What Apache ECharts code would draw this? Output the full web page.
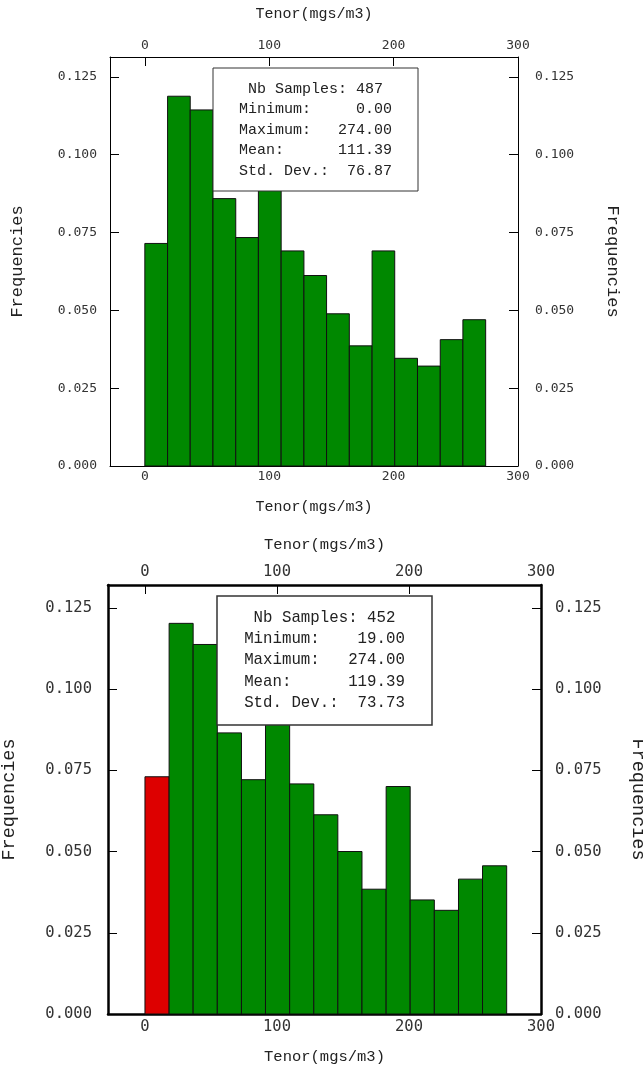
<!DOCTYPE html>
<html><head><meta charset="utf-8">
<script src="https://cdn.jsdelivr.net/npm/echarts@6/dist/echarts.min.js"></script>
<style>html,body{margin:0;padding:0;background:#fff}#c{width:643px;height:1072px}</style>
</head><body><div id="c"></div>
<script>
// ---- data ----
const binEdges = [0, 18.3, 36.5, 54.8, 73.1, 91.3, 109.6, 127.9, 146.1, 164.4, 182.7, 200.9, 219.2, 237.5, 255.7, 274];
const freqAll = [0.0715, 0.1188, 0.1144, 0.0859, 0.0734, 0.0945, 0.0691, 0.0612, 0.0489, 0.0386, 0.0691, 0.0346, 0.0321, 0.0406, 0.0470];
const freqFiltered = [0.0730, 0.1202, 0.1137, 0.0865, 0.0721, 0.0920, 0.0708, 0.0613, 0.0500, 0.0384, 0.0700, 0.0351, 0.0319, 0.0415, 0.0456];
const excludedBinsFiltered = [0];
const xTicks = [0, 100, 200, 300];
const yTicks = [0, 0.025, 0.05, 0.075, 0.1, 0.125];
const xTitle = 'Tenor(mgs/m3)';
const yTitle = 'Frequencies';
const statsAll = ['Nb Samples: 487', 'Minimum:     0.00', 'Maximum:   274.00', 'Mean:      111.39', 'Std. Dev.:  76.87'];
const statsFiltered = ['Nb Samples: 452', 'Minimum:    19.00', 'Maximum:   274.00', 'Mean:      119.39', 'Std. Dev.:  73.73'];

// ---- layout / style ----
const GREEN = '#008800', RED = '#dd0000';
const MONO = '"Liberation Mono", "Courier New", monospace';
const TICKFONT = '"DejaVu Sans Mono", monospace';
const panels = [
  { grid: {left: 110, top: 57, width: 408, height: 409}, yMax: 0.1314, frameW: 1,
    tickFS: 13, xNameFS: 15, yNameFS: 17, topLabelMargin: 5, botLabelMargin: 4,
    topNameGap: 35, botNameGap: 34, leftNameGap: 84, rightNameGap: 86,
    leftLabelMargin: 13, rightLabelMargin: 17, tickLen: 9,
    freq: freqAll, excluded: [], stats: statsAll,
    box: {x: 213, y: 68, w: 205, h: 123}, textX: 315.5, textY: 78.5, lh: 20.5, statFS: 15 },
  { grid: {left: 108, top: 585, width: 433, height: 429}, yMax: 0.132, frameW: 2.5,
    tickFS: 15.5, xNameFS: 15.5, yNameFS: 18.5, topLabelMargin: 5, botLabelMargin: 5,
    topNameGap: 32, botNameGap: 35, leftNameGap: 89, rightNameGap: 87,
    leftLabelMargin: 16, rightLabelMargin: 14, tickLen: 9,
    freq: freqFiltered, excluded: excludedBinsFiltered, stats: statsFiltered,
    box: {x: 217, y: 596, w: 215, h: 129}, textX: 324.5, textY: 607, lh: 21.3, statFS: 15.75 }
];

const grids = [], xAxes = [], yAxes = [], series = [], graphics = [];
panels.forEach((p, gi) => {
  grids.push(Object.assign({outerBoundsMode: 'none', containLabel: false}, p.grid));
  const line = {onZero: false, lineStyle: {color: '#000', width: p.frameW}};
  const tick = {inside: true, length: p.tickLen, customValues: null, lineStyle: {color: '#000', width: 1}};
  const xBase = (pos, margin, gap) => ({
    gridIndex: gi, type: 'value', position: pos, min: -28, max: 300,
    name: xTitle, nameLocation: 'middle', nameGap: gap,
    nameTextStyle: {fontFamily: MONO, fontSize: p.xNameFS, color: '#222'},
    axisLine: line,
    axisTick: Object.assign({}, tick, {customValues: xTicks}),
    axisLabel: {customValues: xTicks, margin: margin, fontFamily: TICKFONT, fontSize: p.tickFS, color: '#333'},
    splitLine: {show: false}
  });
  xAxes.push(xBase('bottom', p.botLabelMargin, p.botNameGap));
  xAxes.push(xBase('top', p.topLabelMargin, p.topNameGap));
  const yBase = (pos, margin, gap, rot) => ({
    gridIndex: gi, type: 'value', position: pos, min: 0, max: p.yMax,
    name: yTitle, nameLocation: 'middle', nameGap: gap, nameRotate: rot,
    nameTextStyle: {fontFamily: MONO, fontSize: p.yNameFS, color: '#222'},
    axisLine: line,
    axisTick: Object.assign({}, tick, {customValues: yTicks}),
    axisLabel: {customValues: yTicks, margin: margin, fontFamily: TICKFONT, fontSize: p.tickFS, color: '#333',
                formatter: v => Number(v).toFixed(3)},
    splitLine: {show: false}
  });
  yAxes.push(yBase('left', p.leftLabelMargin, p.leftNameGap, 90));
  yAxes.push(yBase('right', p.rightLabelMargin, p.rightNameGap, -90));

  series.push({
    type: 'custom', xAxisIndex: gi * 2, yAxisIndex: gi * 2, z: 2,
    data: p.freq.map((f, i) => [binEdges[i], binEdges[i + 1], f, p.excluded.indexOf(i) >= 0 ? 1 : 0]),
    encode: {x: [0, 1], y: 2},
    renderItem: (params, api) => {
      const a = api.coord([api.value(0), api.value(2)]);
      const b = api.coord([api.value(1), 0]);
      return {type: 'rect', shape: {x: a[0], y: a[1], width: b[0] - a[0], height: b[1] - a[1]},
              style: {fill: api.value(3) ? RED : GREEN, stroke: '#111', lineWidth: 1}};
    }
  });

  graphics.push({type: 'rect', z: 100, shape: {x: p.box.x, y: p.box.y, width: p.box.w, height: p.box.h},
                 style: {fill: '#fff', stroke: '#333', lineWidth: gi ? 1.5 : 1}});
  graphics.push({type: 'text', z: 101, x: p.textX, y: p.textY,
                 style: {text: p.stats.join('\n'), fill: '#222', font: p.statFS + 'px ' + MONO,
                         align: 'center', verticalAlign: 'top', lineHeight: p.lh}});
});

const chart = echarts.init(document.getElementById('c'), null, {renderer: 'canvas'});
chart.setOption({
  animation: false, backgroundColor: '#fff',
  grid: grids, xAxis: xAxes, yAxis: yAxes, series: series, graphic: graphics
});
</script></body></html>
